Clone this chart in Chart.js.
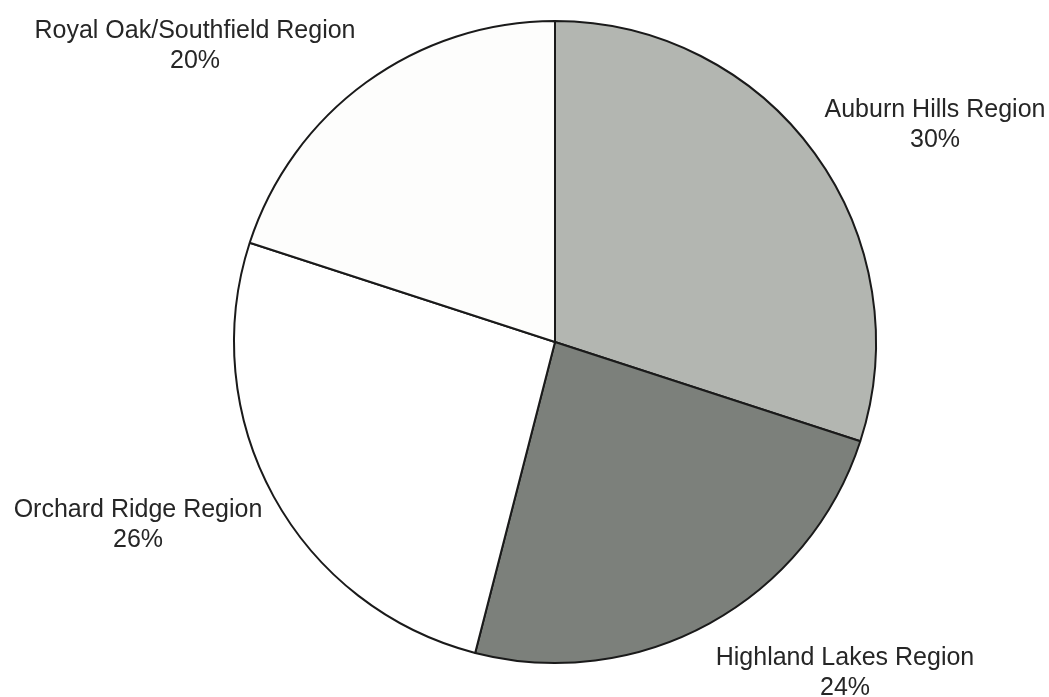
<!DOCTYPE html>
<html>
<head>
<meta charset="utf-8">
<script src="https://cdn.jsdelivr.net/npm/chart.js@4"></script>
<style>
html,body{margin:0;padding:0;background:#fff;}
canvas{display:block;}
</style>
</head>
<body>
<canvas id="c" width="1049" height="697"></canvas>
<script>
const categories = ["Auburn Hills Region", "Highland Lakes Region", "Orchard Ridge Region", "Royal Oak/Southfield Region"];
const values = [30, 24, 26, 20];
const valueLabels = ["30%", "24%", "26%", "20%"];
const colors = ["#b3b6b1", "#7c807b", "#ffffff", "#fdfdfc"];

// label anchor positions (page layout for the text blocks, baseline of first line)
const labelPos = [
  {x: 935, y: 117},
  {x: 845, y: 665},
  {x: 138, y: 517},
  {x: 195, y: 38}
];

const labelPlugin = {
  id: 'outerLabels',
  afterDraw(chart) {
    const ctx = chart.ctx;
    ctx.save();
    ctx.fillStyle = '#262626';
    ctx.font = '25px "Liberation Sans", Arial, sans-serif';
    ctx.textAlign = 'center';
    ctx.textBaseline = 'alphabetic';
    categories.forEach((c, i) => {
      const p = labelPos[i];
      ctx.fillText(c, p.x, p.y);
      ctx.fillText(valueLabels[i], p.x, p.y + 30);
    });
    ctx.restore();
  }
};

new Chart(document.getElementById('c'), {
  type: 'pie',
  data: {
    labels: categories,
    datasets: [{
      data: values,
      backgroundColor: colors,
      borderColor: '#1a1a1a',
      borderWidth: 2,
      borderAlign: 'center'
    }]
  },
  options: {
    responsive: false,
    animation: false,
    devicePixelRatio: 1,
    layout: { padding: { top: 19, bottom: 32, left: 233, right: 172 } },
    plugins: {
      legend: { display: false },
      tooltip: { enabled: false },
      title: { display: false }
    }
  },
  plugins: [labelPlugin]
});
</script>
</body>
</html>
